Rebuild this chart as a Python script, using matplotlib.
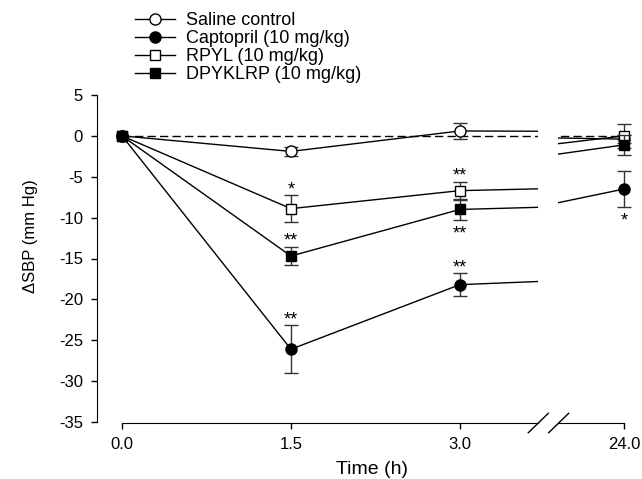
import matplotlib
matplotlib.use("Agg")
import matplotlib.pyplot as plt
from matplotlib.lines import Line2D

plt.rcParams['font.family'] = ['Liberation Sans', 'DejaVu Sans']

# Data: change in systolic blood pressure (mean and SE)
time_h = [0.0, 1.5, 3.0, 24.0]
saline = [0.0, -1.9, 0.6, -0.4]
saline_se = [0.0, 0.55, 1.0, 0.5]
captopril = [0.0, -26.1, -18.2, -6.5]
captopril_se = [0.0, 2.95, 1.4, 2.2]
rpyl = [0.0, -8.9, -6.7, 0.0]
rpyl_se = [0.0, 1.65, 1.1, 1.5]
dpyklrp = [0.0, -14.7, -9.0, -1.1]
dpyklrp_se = [0.0, 1.15, 1.3, 1.25]

labels = ["Saline control", "Captopril (10 mg/kg)", "RPYL (10 mg/kg)", "DPYKLRP (10 mg/kg)"]
# significance marks: (time index, text, side)
captopril_sig = [(1, "**", "above"), (2, "**", "above"), (3, "*", "below")]
rpyl_sig = [(1, "*", "above"), (2, "**", "above")]
dpyklrp_sig = [(1, "**", "above"), (2, "**", "below")]

x_ticks_left = [0.0, 1.5, 3.0]
x_ticks_right = [24.0]
y_ticks = [5, 0, -5, -10, -15, -20, -25, -30, -35]

W, H = 642, 479
fig = plt.figure(figsize=(W / 100, H / 100), dpi=100)

def fx(px):
    return px / W

def fy(py):
    return 1 - py / H

# left panel covers 0-3.7 h, right panel covers 21-24 h
y_top, y_bot = 95, 422
axL = fig.add_axes([fx(97), fy(y_bot), fx(538 - 97), (y_bot - y_top) / H])
axR = fig.add_axes([fx(558.3), fy(y_bot), fx(640 - 558.3), (y_bot - y_top) / H])
axL.set_xlim(-0.222, 3.694)
axR.set_xlim(21.0, 21.0 + (640 - 558.3) / 21.9)

series = [
    (saline, saline_se, dict(marker='o', mfc='white', mec='black', ms=8)),
    (captopril, captopril_se, dict(marker='o', mfc='black', mec='black', ms=8)),
    (rpyl, rpyl_se, dict(marker='s', mfc='white', mec='black', ms=7)),
    (dpyklrp, dpyklrp_se, dict(marker='s', mfc='black', mec='black', ms=7)),
]
sigs = [[], captopril_sig, rpyl_sig, dpyklrp_sig]

handles = []
for ax in (axL, axR):
    ax.set_ylim(-35, 5)
    ax.plot([time_h[0], time_h[-1]], [0, 0], color='black', lw=1,
            dashes=(6, 3), zorder=1)
    for k, (vals, se, style) in enumerate(series):
        ax.errorbar(time_h[1:], vals[1:], yerr=se[1:], fmt='none',
                    ecolor='#333333', elinewidth=1, capsize=5, capthick=1,
                    zorder=2 + k)
        ln, = ax.plot(time_h, vals, color='black', lw=1, mew=1,
                      zorder=3 + k, label=labels[k], **style)
        if ax is axL:
            handles.append(ln)
        for idx, txt, side in sigs[k]:
            if side == "above":
                yv = vals[idx] + se[idx]
                off = 0.5
            else:
                yv = vals[idx] - se[idx]
                off = -13.5
            ax.annotate(txt, (time_h[idx], yv), xytext=(0, off),
                        textcoords='offset points', ha='center',
                        va='baseline', fontsize=13, annotation_clip=True)
    for s in ('top', 'right'):
        ax.spines[s].set_visible(False)
    ax.spines['bottom'].set_position(('outward', 1))
    ax.tick_params(direction='out', length=4, width=1, labelsize=12,
                   pad=6)

axL.set_yticks(y_ticks)
axL.set_yticklabels([str(v) for v in y_ticks])
axL.spines['left'].set_bounds(-35, 5)
axL.set_xticks(x_ticks_left)
axL.set_xticklabels([f"{v:.1f}" for v in x_ticks_left])
axL.spines['bottom'].set_bounds(0, 3.694)

axR.spines['left'].set_visible(False)
axR.set_yticks([])
axR.set_xticks(x_ticks_right)
axR.set_xticklabels([f"{v:.1f}" for v in x_ticks_right])
axR.spines['bottom'].set_bounds(21.0, 24.0)
axR.patch.set_visible(False)

# axis break marks
for x0 in (528.3, 548.7):
    fig.add_artist(Line2D([fx(x0), fx(x0 + 20)], [fy(432.7), fy(413.3)],
                          color='black', lw=1))

fig.text(fx(31), fy(236), "\u0394SBP (mm Hg)", rotation=90, ha='center',
         va='center', fontsize=12)
fig.text(fx(372), fy(469), "Time (h)", ha='center', va='center', fontsize=14)

fig.legend(handles=handles, loc='upper left',
           bbox_to_anchor=(fx(135), fy(12)), frameon=False, fontsize=13,
           borderpad=0, borderaxespad=0, handlelength=2.2,
           handletextpad=0.65, labelspacing=0.06)

fig.savefig("out.png", dpi=100)
